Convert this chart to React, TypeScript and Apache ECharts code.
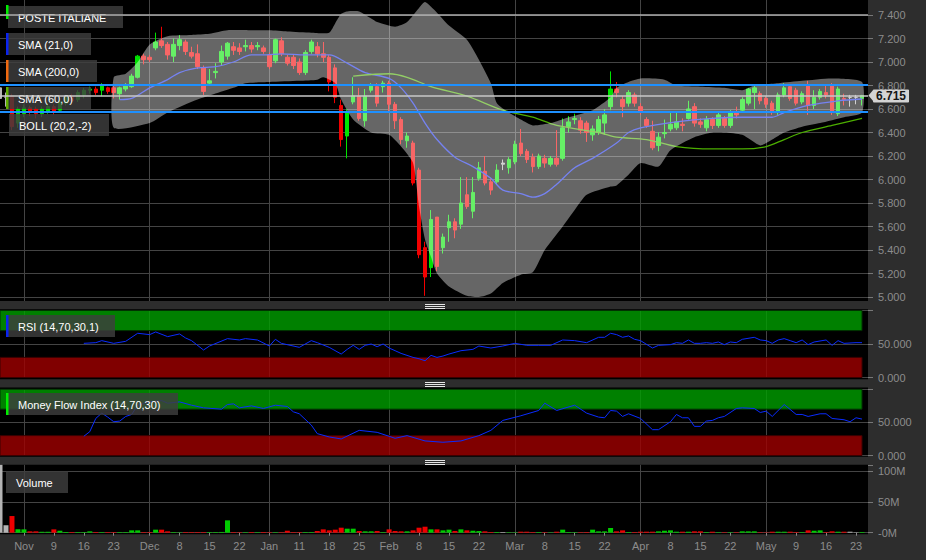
import React, { useEffect, useRef } from "react";
import * as echarts from "echarts";

// ---------- DATA ----------
const tradingDays: [string, string][] = [
  ["2015-10", "27 28 29 30"],
  ["2015-11", "2 3 4 5 6 9 10 11 12 13 16 17 18 19 20 23 24 25 26 27 30"],
  ["2015-12", "1 2 3 4 7 8 9 10 11 14 15 16 17 18 21 22 23 28 29 30"],
  ["2016-01", "4 5 6 7 8 11 12 13 14 15 18 19 20 21 22 25 26 27 28 29"],
  ["2016-02", "1 2 3 4 5 8 9 10 11 12 15 16 17 18 19 22 23 24 25 26 29"],
  ["2016-03", "1 2 3 4 7 8 9 10 11 14 15 16 17 18 21 22 23 24 29 30 31"],
  ["2016-04", "1 4 5 6 7 8 11 12 13 14 15 18 19 20 21 22 25 26 27 28 29"],
  ["2016-05", "2 3 4 5 6 9 10 11 12 13 16 17 18 19 20 23 24"],
];

const tickLabels: [string, string][] = [
  ["2015-11-02", "Nov"], ["2015-11-09", "9"], ["2015-11-16", "16"], ["2015-11-23", "23"],
  ["2015-12-01", "Dec"], ["2015-12-08", "8"], ["2015-12-15", "15"], ["2015-12-22", "22"],
  ["2016-01-04", "Jan"], ["2016-01-11", "11"], ["2016-01-18", "18"], ["2016-01-25", "25"],
  ["2016-02-01", "Feb"], ["2016-02-08", "8"], ["2016-02-15", "15"], ["2016-02-22", "22"],
  ["2016-03-01", "Mar"], ["2016-03-08", "8"], ["2016-03-15", "15"], ["2016-03-22", "22"],
  ["2016-04-01", "Apr"], ["2016-04-08", "8"], ["2016-04-15", "15"], ["2016-04-22", "22"],
  ["2016-05-02", "May"], ["2016-05-09", "9"], ["2016-05-16", "16"], ["2016-05-23", "23"],
];
const monthStarts = ["2015-11-02", "2015-12-01", "2016-01-04", "2016-02-01", "2016-03-01", "2016-04-01", "2016-05-02"];

// [open, close, low, high]
const ohlc: number[][] = [
  [6.78,6.69,6.66,6.84],[6.70,6.70,6.62,6.74],[6.71,6.45,6.42,6.73],[6.48,6.60,6.44,6.62],[6.56,6.61,6.53,6.64],
  [6.61,6.57,6.54,6.63],[6.60,6.56,6.52,6.62],[6.56,6.60,6.53,6.62],[6.58,6.62,6.56,6.65],[6.62,6.58,6.55,6.64],
  [6.59,6.66,6.57,6.68],[6.65,6.70,6.63,6.72],[6.71,6.67,6.64,6.73],[6.68,6.74,6.66,6.76],[6.72,6.76,6.69,6.78],
  [6.76,6.77,6.73,6.79],[6.77,6.74,6.72,6.79],[6.76,6.80,6.71,6.82],[6.78,6.75,6.73,6.79],[6.78,6.74,6.69,6.80],
  [6.73,6.78,6.68,6.79],[6.77,6.80,6.75,6.82],[6.79,6.88,6.78,6.90],[6.87,7.05,6.86,7.06],[7.05,7.02,6.98,7.07],
  [7.04,7.02,7.00,7.06],[7.12,7.17,7.10,7.25],[7.18,7.14,7.12,7.30],[7.15,7.06,7.02,7.17],[7.05,7.15,7.00,7.20],
  [7.14,7.19,7.10,7.23],[7.17,7.09,7.06,7.19],[7.08,7.05,7.03,7.13],[7.07,6.96,6.94,7.15],[6.95,6.75,6.72,6.97],
  [6.82,6.84,6.80,6.94],[6.91,6.92,6.86,6.99],[7.00,7.09,6.97,7.14],[7.05,7.16,7.02,7.17],[7.13,7.10,7.06,7.17],
  [7.12,7.09,7.06,7.16],[7.13,7.14,7.09,7.19],[7.14,7.11,7.08,7.17],[7.13,7.14,7.10,7.17],[7.12,7.09,7.07,7.14],
  [7.06,6.96,6.94,7.08],[7.01,7.19,6.99,7.20],[7.18,7.07,7.05,7.21],[7.04,6.99,6.97,7.06],[7.04,6.97,6.94,7.06],
  [7.00,6.91,6.89,7.03],[6.91,7.08,6.89,7.10],[7.09,7.17,7.07,7.19],[7.13,7.07,7.04,7.17],[7.07,7.04,7.00,7.17],
  [7.04,6.83,6.75,7.06],[6.95,6.70,6.65,6.98],[6.63,6.34,6.28,6.68],[6.37,6.57,6.18,6.60],[6.66,6.71,6.64,6.87],
  [6.71,6.52,6.50,6.78],[6.50,6.71,6.45,6.77],[6.76,6.80,6.74,6.82],[6.79,6.65,6.62,6.82],[6.79,6.82,6.74,6.84],
  [6.82,6.64,6.57,6.84],[6.64,6.50,6.43,6.66],[6.51,6.34,6.30,6.53],[6.33,6.37,6.27,6.40],[6.31,5.97,5.95,6.33],
  [6.08,5.36,5.33,6.10],[5.42,5.17,5.01,5.47],[5.25,5.66,5.17,5.74],[5.68,5.26,5.22,5.68],[5.42,5.51,5.37,5.54],
  [5.59,5.64,5.47,5.70],[5.64,5.57,5.50,5.67],[5.62,5.80,5.58,6.02],[5.87,5.77,5.75,6.02],[5.73,5.89,5.67,6.02],
  [6.01,6.10,5.99,6.15],[6.07,5.97,5.95,6.20],[5.98,5.91,5.87,6.01],[5.98,6.08,5.96,6.13],[6.13,6.14,6.08,6.17],
  [6.10,6.17,6.05,6.19],[6.15,6.30,6.13,6.33],[6.31,6.22,6.20,6.43],[6.24,6.17,6.14,6.26],[6.19,6.11,6.06,6.22],
  [6.11,6.20,6.09,6.22],[6.18,6.14,6.10,6.21],[6.13,6.18,6.11,6.20],[6.18,6.13,6.11,6.42],[6.18,6.44,6.16,6.52],
  [6.45,6.49,6.40,6.54],[6.51,6.52,6.47,6.56],[6.50,6.42,6.39,6.53],[6.48,6.40,6.32,6.50],[6.38,6.43,6.33,6.46],
  [6.40,6.51,6.38,6.54],[6.48,6.55,6.38,6.60],[6.62,6.77,6.59,6.92],[6.77,6.74,6.70,6.83],[6.68,6.62,6.53,6.71],
  [6.65,6.74,6.62,6.76],[6.72,6.65,6.62,6.74],[6.62,6.57,6.55,6.65],[6.51,6.46,6.44,6.53],[6.41,6.27,6.25,6.50],
  [6.29,6.36,6.24,6.40],[6.39,6.40,6.35,6.51],[6.43,6.47,6.41,6.57],[6.44,6.49,6.42,6.57],[6.47,6.46,6.41,6.52],
  [6.52,6.60,6.51,6.67],[6.62,6.48,6.45,6.65],[6.49,6.47,6.44,6.52],[6.44,6.51,6.41,6.54],[6.51,6.46,6.43,6.53],
  [6.46,6.55,6.44,6.57],[6.52,6.46,6.44,6.54],[6.46,6.57,6.44,6.59],[6.57,6.55,6.52,6.62],[6.59,6.68,6.57,6.70],
  [6.65,6.77,6.63,6.78],[6.74,6.78,6.60,6.81],[6.73,6.67,6.64,6.75],[6.69,6.64,6.61,6.71],[6.65,6.57,6.55,6.67],
  [6.57,6.72,6.55,6.74],[6.72,6.78,6.70,6.82],[6.79,6.69,6.67,6.81],[6.76,6.65,6.63,6.78],[6.66,6.73,6.64,6.75],
  [6.80,6.63,6.55,6.84],[6.63,6.70,6.60,6.76],[6.70,6.75,6.68,6.77],[6.74,6.72,6.69,6.80],[6.80,6.57,6.55,6.82],
  [6.56,6.77,6.54,6.79],[6.69,6.68,6.63,6.73],[6.70,6.70,6.62,6.72],[6.70,6.70,6.64,6.72],[6.69,6.715,6.63,6.72],
];
const unchangedDays = [0, 1, 84, 142, 143];

// volume, millions
const volumes = [
  150,12,27,5.4,5.4, 2.2,2.2,1.5,1.5,5.4, 3.2,1,1.1,1,1, 2.2,1.1,1,1,1, 1,1,3.8,3.8,1,
  1,4.9,4.9,2.2,1, 0.6,1,1,1,1, 1,1,1.2,20,1, 0.8,0.8,1.1,0.8,1.1, 0.8,0.8,0.8,3.2,1,
  1,1,1,2.7,5.4, 3.8,4.9,8.1,6.5,6.5, 2.7,2.2,2.2,2.7,1, 5.4,2.7,2.2,2.2,3.8, 8.1,9.7,5.4,5.4,3.8,
  4.9,2.7,5.4,3.8,3.2, 2.7,2.2,1.1,1.1,1, 0.8,0.6,1.6,1.6,1, 1,0.8,0.6,1.6,4.9, 1.1,0.8,0.8,1,4.9,
  2.2,2.2,7.6,2.2,3.8, 1.1,1,1.6,1.6,1.6, 2.2,3.2,3.8,1.6,1.6, 1.6,2.2,2.2,1,1.6, 0.8,0.8,0.8,0.8,2.2,
  2.2,2.2,0.8,0.6,1.6, 1.6,1.6,1.6,1,1, 3.8,3.2,3.8,1,2.2, 1.6,1.6,1.6,0.6,1.1,
];

// [day index, value]
const sma21: number[][] = [
  [20,6.68],[22,6.69],[25,6.78],[28,6.85],[30,6.91],[33,6.95],[36,6.96],[39,7.00],[42,7.06],[44,7.06],
  [47,7.07],[51,7.06],[55,7.06],[58,6.99],[61,6.91],[65,6.86],[67,6.78],[69,6.65],[71,6.48],[73,6.34],
  [76,6.19],[79,6.11],[82,6.01],[84,5.91],[87,5.88],[89,5.85],[91,5.88],[93,5.96],[96,6.10],[99,6.18],
  [103,6.31],[105,6.40],[107,6.44],[113,6.49],[119,6.52],[124,6.53],[129,6.53],[131,6.57],[135,6.63],
  [140,6.67],[144,6.685],
];
const sma60: number[][] = [
  [59,6.88],[65,6.90],[68,6.87],[72,6.79],[78,6.71],[84,6.59],[89,6.53],[93,6.46],[100,6.40],[103,6.36],
  [108,6.34],[113,6.28],[119,6.26],[124,6.26],[128,6.28],[131,6.34],[134,6.40],[139,6.46],[144,6.52],
];
const bollUpper: number[][] = [
  [19,6.87],[21,6.90],[23,7.00],[25,7.15],[28,7.22],[32,7.23],[35,7.24],[38,7.27],[42,7.27],[45,7.27],
  [48,7.26],[52,7.25],[55,7.25],[56,7.33],[57,7.41],[58,7.43],[60,7.43],[62,7.37],[63,7.34],[66,7.30],
  [68,7.34],[70,7.46],[71,7.51],[73,7.42],[75,7.31],[78,7.19],[80,7.02],[82,6.82],[83,6.65],[85,6.57],
  [87,6.51],[89,6.46],[92,6.48],[95,6.53],[99,6.59],[102,6.70],[103,6.78],[105,6.83],[107,6.86],[111,6.85],
  [113,6.80],[117,6.79],[121,6.78],[124,6.76],[126,6.80],[130,6.82],[134,6.84],[139,6.86],[144,6.83],
];
const bollLower: number[][] = [
  [19,6.44],[25,6.48],[28,6.57],[33,6.68],[39,6.78],[41,6.82],[45,6.83],[50,6.84],[53,6.85],[54,6.87],
  [56,6.82],[57,6.68],[59,6.51],[62,6.40],[65,6.38],[67,6.28],[69,6.14],[70,5.77],[71,5.49],[72,5.34],
  [73,5.20],[75,5.09],[78,5.01],[80,5.00],[82,5.03],[84,5.12],[87,5.19],[89,5.21],[91,5.40],[94,5.60],
  [96,5.74],[98,5.87],[102,5.94],[103,5.95],[105,6.04],[107,6.14],[110,6.11],[112,6.25],[116,6.36],
  [119,6.40],[121,6.40],[124,6.38],[127,6.29],[129,6.34],[131,6.40],[134,6.45],[137,6.48],[141,6.53],[144,6.57],
];
const rsi: number[][] = [
  [14,51],[16,52],[17,55],[19,51],[21,54],[23,66],[25,64],[26,68],[28,61],[30,65],[31,59],[32,55],[34,41],
  [35,47],[38,58],[40,56],[41,58],[43,56],[45,47],[46,57],[47,51],[50,45],[52,55],[53,52],[55,45],[57,35],
  [58,42],[59,48],[60,42],[61,48],[62,50],[63,46],[64,50],[65,44],[66,40],[67,36],[69,30],[70,28],[71,25],
  [72,33],[73,30],[74,32],[75,35],[77,40],[79,42],[80,47],[82,44],[84,47],[86,51],[88,48],[90,48],[92,48],
  [94,56],[96,55],[98,52],[100,60],[101,60],[102,66],[103,64],[104,60],[105,62],[106,57],[107,55],[109,44],
  [110,48],[112,49],[113,52],[114,51],[115,56],[116,51],[117,51],[118,52],[119,51],[120,53],[121,49],[122,53],
  [123,52],[124,57],[126,60],[127,56],[128,55],[129,51],[130,56],[131,58],[132,55],[133,52],[134,56],[135,49],
  [136,53],[138,56],[139,48],[140,55],[141,51],[143,52],[144,52],
];
const mfi: number[][] = [
  [14,29],[15,36],[16,56],[17,64],[18,58],[19,51],[20,52],[21,59],[22,62],[23,76],[25,81],[27,83],[28,79],
  [30,81],[32,76],[34,72],[37,70],[38,77],[39,78],[40,72],[42,75],[44,71],[46,76],[48,74],[49,66],[50,63],
  [52,46],[53,33],[55,28],[57,25],[60,38],[63,35],[66,26],[68,30],[71,22],[74,20],[77,22],[80,30],[82,38],
  [84,53],[87,60],[90,68],[91,79],[93,68],[96,76],[98,64],[100,58],[101,57],[102,68],[103,67],[104,59],
  [105,63],[107,56],[109,39],[110,39],[112,51],[113,62],[114,57],[115,57],[116,44],[117,44],[118,52],
  [119,53],[120,57],[121,59],[123,71],[124,72],[126,71],[127,65],[128,67],[129,59],[131,77],[133,62],
  [134,62],[135,59],[137,63],[138,63],[139,56],[141,54],[142,51],[143,57],[144,55],
];
const lastPrice = 6.715;
const topLevel = 7.4;
const resistance = 6.81;
const support = 6.575;

// ---------- BUILD ----------
const dates: string[] = [];
tradingDays.forEach(([ym, days]) =>
  days.split(" ").forEach((d) => dates.push(`${ym}-${d.padStart(2, "0")}`))
);
const categories = [...dates, ""];
const tickMap = new Map(tickLabels);
const monthSet = new Set(monthStarts);

const FONT = '"Liberation Sans", Arial, sans-serif';
const UP = "#00e400";
const DOWN = "#f20000";
const FLAT = "#b4b4b4";
const GRID_LINE = "#444444";
const AXIS_TEXT = "#8c8c8c";
const PRICE_TAG = "#d4d4d4";

const candleData = ohlc.map((v, i) =>
  unchangedDays.includes(i)
    ? { value: v, itemStyle: { color: FLAT, color0: FLAT, borderColor: FLAT, borderColor0: FLAT } }
    : v
);
const volumeData = volumes.map((v, i) => {
  const [o, c] = ohlc[i];
  const col = unchangedDays.includes(i) ? FLAT : c >= o ? "#00cc00" : "#ee0000";
  return { value: v, itemStyle: { color: col } };
});

const W = 868;

function buildGraphic(): any[] {
  const graphic: any[] = [];
  [[0, 301], [309.3, 379.3], [387.5, 456.7], [464.8, 534.3]].forEach(([a, b]) =>
    graphic.push({ type: "rect", z: -10, silent: true, shape: { x: 0, y: a, width: W, height: b - a }, style: { fill: "#000" } })
  );
  [304.5, 382.5, 460.5].forEach((y0) => {
    [0, 2, 4].forEach((d) =>
      graphic.push({ type: "line", z: 20, silent: true, shape: { x1: 425, y1: y0 + d, x2: 445, y2: y0 + d }, style: { stroke: "#e6e6e6", lineWidth: 1 } })
    );
  });
  const legends = [
    { text: "POSTE ITALIANE", x: 8, y: 6, w: 115, bar: "#00ee00", barY: 5, barH: 14 },
    { text: "SMA (21,0)", x: 8, y: 33, w: 83, bar: "#0a24f0" },
    { text: "SMA (200,0)", x: 8, y: 60, w: 89, bar: "#f06a10" },
    { text: "SMA (60,0)", x: 8, y: 87, w: 83, bar: "#5fae00" },
    { text: "BOLL (20,2,-2)", x: 9, y: 114, w: 100, bar: null },
    { text: "RSI (14,70,30,1)", x: 8, y: 315, w: 107, bar: "#0a24f0" },
    { text: "Money Flow Index (14,70,30)", x: 8, y: 393, w: 170, bar: "#00ee00" },
    { text: "Volume", x: 6, y: 471, w: 62, bar: null },
  ];
  legends.forEach((l: any) => {
    graphic.push({ type: "rect", z: 5, silent: true, shape: { x: l.x, y: l.y, width: l.w, height: 22 }, style: { fill: "rgba(62,62,62,0.82)" } });
    if (l.bar)
      graphic.push({ type: "rect", z: 6, silent: true, shape: { x: 6, y: l.barY ?? l.y, width: 2.5, height: l.barH ?? 22 }, style: { fill: l.bar } });
    graphic.push({
      type: "text", z: 7, silent: true, x: l.x + 10, y: l.y + 11.5,
      style: { text: l.text, fill: "#ffffff", fontSize: 11, fontFamily: FONT, verticalAlign: "middle", align: "left" },
    });
  });
  return graphic;
}

function buildOption(): any {
  const xAxes = [0, 1, 2, 3, 4].map((g) => ({
    type: "category",
    gridIndex: g,
    data: categories,
    boundaryGap: false,
    axisLine: { show: false },
    axisTick:
      g === 3
        ? { show: true, interval: (_i: number, v: string) => tickMap.has(v), length: 3, lineStyle: { color: "#888" } }
        : { show: false },
    axisLabel:
      g === 3
        ? {
            show: true,
            interval: (_i: number, v: string) => tickMap.has(v),
            formatter: (v: string) => tickMap.get(v) ?? "",
            color: AXIS_TEXT,
            fontSize: 11,
            fontFamily: FONT,
            margin: 8,
          }
        : { show: false },
    splitLine:
      g === 0
        ? { show: false }
        : { show: true, interval: (_i: number, v: string) => monthSet.has(v), lineStyle: { color: GRID_LINE, width: 1 } },
  }));

  const yBase = {
    type: "value",
    position: "right",
    axisLine: { show: false },
    axisTick: { show: true, length: 5, lineStyle: { color: "#777" } },
    splitLine: { show: true, lineStyle: { color: GRID_LINE, width: 1 } },
  };
  const pctLabel = { color: AXIS_TEXT, fontSize: 11, fontFamily: FONT, margin: 10, formatter: (v: number) => (v >= 100 ? "" : v.toFixed(3)) };
  const yAxes = [
    {
      ...yBase, gridIndex: 0, min: 5, max: 7.4, interval: 0.2,
      axisLabel: { color: AXIS_TEXT, fontSize: 11, fontFamily: FONT, margin: 10, formatter: (v: number) => v.toFixed(3) },
    },
    { ...yBase, gridIndex: 1, min: 0, max: 100, interval: 50, axisLabel: pctLabel },
    { ...yBase, gridIndex: 2, min: 0, max: 100, interval: 50, axisLabel: pctLabel },
    {
      ...yBase, gridIndex: 3, min: 0, max: 110, interval: 50,
      splitLine: { show: true, lineStyle: { color: [GRID_LINE, GRID_LINE, GRID_LINE, "rgba(0,0,0,0)"], width: 1 } },
      axisLabel: {
        color: AXIS_TEXT, fontSize: 11, fontFamily: FONT, margin: 10,
        formatter: (v: number) => (v > 100 ? "" : v === 0 ? "-0M" : `${v}M`),
      },
    },
    { type: "value", gridIndex: 4, show: false, min: 0, max: 1 },
  ];

  const zoneArea = {
    silent: true,
    data: [
      [
        { xAxis: 0, yAxis: 70, itemStyle: { color: "rgba(0,160,0,0.8)", borderColor: "rgba(0,50,0,1)", borderWidth: 1 } },
        { xAxis: 144, yAxis: 100 },
      ],
      [
        { xAxis: 0, yAxis: 0, itemStyle: { color: "rgba(160,0,0,0.8)", borderColor: "rgba(60,0,0,1)", borderWidth: 1 } },
        { xAxis: 144, yAxis: 30 },
      ],
    ],
  };

  const series: any[] = [
    {
      type: "candlestick",
      xAxisIndex: 0, yAxisIndex: 0, z: 2,
      data: candleData,
      barWidth: 4,
      itemStyle: { color: UP, color0: DOWN, borderColor: UP, borderColor0: DOWN, borderWidth: 1 },
      markLine: {
        silent: true,
        symbol: ["none", "none"],
        z: 10,
        data: [
          { yAxis: topLevel, lineStyle: { color: "#acacac", width: 1.5, type: "solid" }, label: { show: false } },
          { yAxis: resistance, lineStyle: { color: "#1e90ff", width: 2, type: "solid" }, label: { show: false } },
          { yAxis: support, lineStyle: { color: "#1e90ff", width: 2, type: "solid" }, label: { show: false } },
          {
            yAxis: lastPrice,
            lineStyle: { color: "#c8c8c8", width: 1.5, type: "solid" },
            label: {
              show: true, position: "end", distance: 5,
              formatter: lastPrice.toFixed(3),
              backgroundColor: PRICE_TAG, color: "#151515", fontWeight: "bold", fontSize: 12, fontFamily: FONT,
              padding: [1, 3, 0, 3], borderRadius: 1,
            },
          },
        ],
      },
    },
    {
      type: "line", xAxisIndex: 0, yAxisIndex: 0, z: 3, data: sma21, showSymbol: false, symbol: "none",
      smooth: 0.3, lineStyle: { color: "#1a30e8", width: 1.3 }, silent: true,
    },
    {
      type: "line", xAxisIndex: 0, yAxisIndex: 0, z: 3, data: sma60, showSymbol: false, symbol: "none",
      smooth: 0.3, lineStyle: { color: "#4cae00", width: 1.3 }, silent: true,
    },
    {
      type: "custom", xAxisIndex: 0, yAxisIndex: 0, z: 4, silent: true, clip: false,
      data: [[0, 6]],
      renderItem: (_p: any, api: any) => {
        const pts = [
          ...bollUpper.map(([i, v]) => api.coord([i, v])),
          ...bollLower.slice().reverse().map(([i, v]) => api.coord([i, v])),
        ];
        return { type: "polygon", shape: { points: pts, smooth: 0.2 }, style: { fill: "rgba(255,255,255,0.4)" } };
      },
    },
    {
      type: "line", xAxisIndex: 1, yAxisIndex: 1, z: 3, data: rsi, showSymbol: false, symbol: "none",
      lineStyle: { color: "#0a2cff", width: 1 }, silent: true, markArea: zoneArea,
    },
    {
      type: "line", xAxisIndex: 2, yAxisIndex: 2, z: 3, data: mfi, showSymbol: false, symbol: "none",
      lineStyle: { color: "#0a2cff", width: 1 }, silent: true, markArea: zoneArea,
    },
    {
      type: "bar", xAxisIndex: 3, yAxisIndex: 3, data: volumeData, barWidth: 5, silent: true,
    },
  ];

  return {
    animation: false,
    backgroundColor: "#2d2d2d",
    textStyle: { fontFamily: FONT },
    grid: [
      { left: 0, top: 15, width: W, height: 282, outerBoundsMode: "none" },
      { left: 0, top: 310.5, width: W, height: 67, outerBoundsMode: "none" },
      { left: 0, top: 389.3, width: W, height: 66.2, outerBoundsMode: "none" },
      { left: 0, top: 464.8, width: W, height: 67.9, outerBoundsMode: "none" },
      { left: 0, top: 0, width: W, height: 301, outerBoundsMode: "none" },
    ],
    xAxis: xAxes,
    yAxis: yAxes,
    series,
    graphic: { elements: buildGraphic() },
  };
}

export default function App() {
  const ref = useRef<HTMLDivElement>(null);
  useEffect(() => {
    if (!ref.current) return;
    const chart = echarts.init(ref.current, null, { renderer: "svg" });
    chart.setOption(buildOption());
    // small pointer on the last-price tag, placed through the price axis scale
    const py = chart.convertToPixel({ yAxisIndex: 0 }, lastPrice) as number;
    if (typeof py === "number" && isFinite(py)) {
      const elements = buildGraphic();
      elements.push({
        type: "polygon", z: 12, silent: true,
        shape: { points: [[W + 0.5, py], [W + 5.5, py - 6], [W + 5.5, py + 6]] },
        style: { fill: PRICE_TAG },
      });
      chart.setOption({ graphic: { elements } });
    }
    return () => chart.dispose();
  }, []);
  return (
    <div style={{ position: "fixed", left: 0, top: 0, width: 926, height: 560, background: "#2d2d2d" }}>
      <div ref={ref} style={{ width: 926, height: 560 }} />
    </div>
  );
}
